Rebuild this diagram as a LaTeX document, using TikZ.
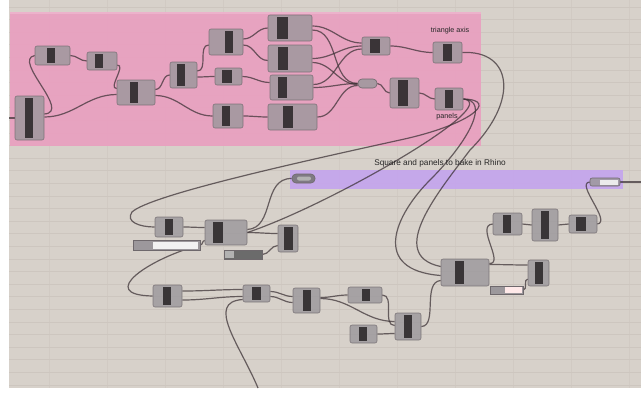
\documentclass[tikz,border=0pt]{standalone}
\usepackage{fontspec}
\setmainfont{Liberation Sans}
\usetikzlibrary{fit,calc}
\definecolor{canvas}{HTML}{D7D1CA}
\definecolor{gridc}{HTML}{CDC6BF}
\definecolor{pinkgrp}{HTML}{E9A0C0}
\definecolor{purplegrp}{HTML}{C5A6EC}
\definecolor{compfill}{HTML}{9C989C}
\definecolor{compedge}{HTML}{6E686C}
\definecolor{bandc}{HTML}{2E2A2C}
\definecolor{wirec}{HTML}{3A3034}
\pgfdeclarelayer{canvaslayer}
\pgfdeclarelayer{wirelayer}
\pgfsetlayers{canvaslayer,wirelayer,main}
\tikzset{
  comp/.style={draw=compedge, fill=compfill, fill opacity=0.82, draw opacity=0.8,
    rounded corners=1.5pt, inner sep=0pt, line width=0.45pt},
  band/.style={fill=bandc, fill opacity=0.9},
  pill/.style={draw=compedge, fill=compfill, fill opacity=0.85, rounded corners=3pt,
    inner sep=0pt, line width=0.45pt},
  slider/.style={draw=compedge, fill=compfill, inner sep=0pt, line width=0.45pt},
  wire/.style={draw=wirec, draw opacity=0.72, line width=0.9pt},
  gridline/.style={draw=gridc, line width=0.6pt},
  lbl/.style={font=\fontsize{5.4pt}{6pt}\selectfont, text=black!85, inner sep=0pt},
}
% component: name, x1, y1, x2, y2, band x1, band x2
\newcommand\gcomp[7]{%
  \node[comp, fit={(#2,#3) (#4,#5)}] (#1) {};
  \fill[band] (#6,#3+1.8) rectangle (#7,#5-1.8);
}
\begin{document}
\begin{tikzpicture}[x=0.75pt,y=-0.75pt]
\useasboundingbox (0,0) rectangle (641,394);

\begin{pgfonlayer}{canvaslayer}
% canvas and grid
\fill[white] (0,0) rectangle (641,394);
\fill[canvas] (9,0) rectangle (641,388);
\foreach \k in {0,...,30} \draw[gridline] (9,{7+12.6*\k}) -- (641,{7+12.6*\k});
\foreach \k in {0,...,10} \draw[gridline, draw opacity=0.6] ({49+58*\k},0) -- ({49+58*\k},388);
% groups
\fill[pinkgrp, fill opacity=0.93] (10,12) rectangle (481,146);
\fill[pinkgrp!70!white, fill opacity=0.6] (10,12) rectangle (481,14);
\fill[purplegrp, fill opacity=0.95] (290,170) rectangle (623,189);
\end{pgfonlayer}

\node[lbl, font=\fontsize{6.2pt}{7pt}\selectfont] (sqtitle) at (440,163) {Square and panels to bake in Rhino};

% components of the pink group
\gcomp{A}{15}{96}{44}{140}{25}{33}
\gcomp{B}{35}{46}{70}{65}{47}{55}
\gcomp{C}{87}{52}{117}{70}{95}{103}
\gcomp{D}{117}{80}{155}{105}{130}{138}
\gcomp{E}{170}{62}{197}{88}{177}{185}
\gcomp{F}{209}{29}{243}{55}{225}{233}
\gcomp{G}{215}{68}{242}{85}{222}{232}
\gcomp{H}{213}{104}{243}{128}{222}{230}
\gcomp{I}{268}{15}{312}{41}{277}{288}
\gcomp{J}{268}{45}{312}{72}{278}{288}
\gcomp{K}{270}{75}{313}{100}{278}{287}
\gcomp{L}{268}{104}{317}{130}{283}{293}
\gcomp{M}{362}{37}{390}{55}{370}{380}
\node[pill, fit={(358,79) (377,88)}] (N) {};
\gcomp{O}{390}{78}{419}{108}{398}{408}
\gcomp{P}{433}{42}{462}{63}{443}{452}
\gcomp{Q}{435}{88}{463}{110}{445}{453}
\node[lbl] (taxis) at (450,31) {triangle axis};
\node[lbl] (tpan) at (447,117) {panels};

% parameters inside the purple group
\node[pill, fill=black!55, fit={(292,174) (315,183)}] (R) {};
\fill[black!30, rounded corners=1.5pt] (297,176.5) rectangle (311,180.5);
\node[pill, rounded corners=1.5pt, fit={(590,178) (620,186)}] (S) {};
\fill[white!92!black] (600,179.5) rectangle (618,184.5);

% components below
\gcomp{T}{155}{217}{183}{237}{165}{173}
\gcomp{U}{205}{220}{247}{245}{213}{223}
\node[slider, fit={(133,240) (200,250)}] (V) {};
\fill[white!95!black] (153,241.5) rectangle (198,248.5);
\node[slider, fill=black!58, fit={(224,250) (262,259)}] (W) {};
\fill[black!30] (225,251) rectangle (234,258);
\gcomp{X}{278}{225}{298}{252}{284}{293}
\gcomp{Y}{153}{285}{182}{307}{163}{171}
\gcomp{Z}{243}{285}{270}{302}{252}{261}
\gcomp{AA}{293}{288}{320}{313}{303}{311}
\gcomp{AB}{348}{287}{382}{303}{362}{370}
\gcomp{AC}{350}{325}{377}{343}{359}{367}
\gcomp{AD}{395}{313}{421}{340}{404}{412}
\gcomp{AE}{441}{259}{489}{286}{455}{464}
\gcomp{AF}{528}{260}{549}{286}{535}{543}
\node[slider, fit={(490,286) (523,294)}] (AG) {};
\fill[pink!35!white] (505,287.3) rectangle (521.5,292.7);
\gcomp{AH}{493}{213}{522}{235}{503}{511}
\gcomp{AI}{532}{209}{558}{241}{541}{549}
\gcomp{AJ}{569}{215}{597}{233}{576}{586}

% free ends of wires
\coordinate (pin) at (9,118);
\coordinate (cin) at (258,388);
\coordinate (sout) at (641,182);

\begin{pgfonlayer}{wirelayer}
% wires of the pink group
\draw[wire] (pin) -- (A.west);
\draw[wire] ($(A.east)+(0,-4)$) .. controls (72,112) and (12,60) .. (B.west);
\draw[wire] ($(A.east)+(0,-1)$) to[out=0,in=180] ($(D.west)+(0,2)$);
\draw[wire] (B.east) to[out=0,in=180] (C.west);
\draw[wire] ($(C.east)+(0,4)$) to[out=0,in=180] ($(D.west)+(0,-4)$);
\draw[wire] ($(D.east)+(0,-3)$) to[out=0,in=180] (E.west);
\draw[wire] ($(D.east)+(0,3)$) to[out=0,in=180] (H.west);
\draw[wire] ($(E.east)+(0,-4)$) to[out=0,in=180] ($(F.west)+(0,3)$);
\draw[wire] ($(E.east)+(0,2)$) to[out=0,in=180] (G.west);
\draw[wire] ($(F.east)+(0,-3)$) to[out=0,in=180] (I.west);
\draw[wire] ($(F.east)+(0,3)$) to[out=0,in=180] ($(J.west)+(0,2)$);
\draw[wire] (G.east) to[out=0,in=180] ($(K.west)+(0,-5)$);
\draw[wire] (H.east) to[out=0,in=180] (L.west);
\draw[wire] ($(I.east)+(0,-2)$) to[out=0,in=180] ($(M.west)+(0,-3)$);
\draw[wire] ($(I.east)+(0,2)$) to[out=0,in=180] (N.west);
\draw[wire] (J.east) to[out=0,in=180] (M.west);
\draw[wire] ($(J.east)+(0,4)$) to[out=0,in=180] ($(N.west)+(0,1)$);
\draw[wire] (K.east) to[out=0,in=180] (N.west);
\draw[wire] ($(K.east)+(0,-3)$) to[out=0,in=180] ($(M.west)+(0,3)$);
\draw[wire] (L.east) to[out=0,in=180] ($(N.west)+(0,2)$);
\draw[wire] (M.east) to[out=0,in=180] (P.west);
\draw[wire] (N.east) to[out=0,in=180] (O.west);
\draw[wire] (O.east) to[out=0,in=180] (Q.west);

% long wires leaving the pink group
\draw[wire] (P.east) .. controls (512,50) and (520,100) .. (470,150)
  .. controls (440,190) and (385,255) .. ($(AE.west)+(0,-6)$);
\draw[wire] (Q.east) .. controls (490,100) and (470,140) .. (430,180)
  .. controls (395,215) and (370,270) .. ($(AE.west)+(0,3)$);
\draw[wire] (Q.east) .. controls (500,100) and (470,125) .. (400,140)
  .. controls (300,162) and (150,195) .. (132,212)
  .. controls (125,222) and (140,227) .. (T.west);
\draw[wire] (Q.east) .. controls (505,104) and (330,205) .. (U.east);

% wires of the lower part
\draw[wire] ($(U.east)+(0,-3)$) .. controls (275,228) and (262,178) .. (R.west);
\draw[wire] (T.east) to[out=0,in=180] ($(U.west)+(0,-5)$);
\draw[wire] (V.east) to[out=0,in=180] ($(U.west)+(0,8)$);
\draw[wire] (V.east) .. controls (150,258) and (95,295) .. (Y.west);
\draw[wire] (U.east) to[out=0,in=180] ($(X.west)+(0,-5)$);
\draw[wire] (W.east) to[out=0,in=180] ($(X.west)+(0,7)$);
\draw[wire] ($(Y.east)+(0,-5)$) to[out=0,in=180] ($(Z.west)+(0,-4)$);
\draw[wire] ($(Y.east)+(0,4)$) to[out=0,in=180] ($(Z.west)+(0,3)$);
\draw[wire] (cin) .. controls (240,345) and (205,302) .. ($(Z.west)+(0,6)$);
\draw[wire] ($(Z.east)+(0,-2)$) to[out=0,in=180] ($(AA.west)+(0,-4)$);
\draw[wire] ($(Z.east)+(0,3)$) to[out=0,in=180] ($(AA.west)+(0,2)$);
\draw[wire] ($(AA.east)+(0,-3)$) to[out=0,in=180] (AB.west);
\draw[wire] ($(AA.east)+(0,-2)$) to[out=0,in=180] ($(AD.west)+(0,-5)$);
\draw[wire] (AB.east) to[out=0,in=180] ($(AD.west)+(0,-1)$);
\draw[wire] (AC.east) to[out=0,in=180] ($(AD.west)+(0,7)$);
\draw[wire] (AD.east) .. controls (438,326) and (422,282) .. ($(AE.west)+(0,8)$);
\draw[wire] ($(AE.east)+(0,-8)$) to[out=0,in=180] ($(AF.west)+(0,-8)$);
\draw[wire] ($(AE.east)+(0,-9)$) .. controls (505,264) and (475,225) .. (AH.west);
\draw[wire] (AG.east) to[out=0,in=180] ($(AF.west)+(0,6)$);
\draw[wire] (AH.east) -- (AI.west);
\draw[wire] (AI.east) -- (AJ.west);
\draw[wire] (AJ.east) .. controls (612,222) and (575,183) .. (S.west);
\draw[wire] (S.east) -- (sout);
\end{pgfonlayer}
\end{tikzpicture}
\end{document}
